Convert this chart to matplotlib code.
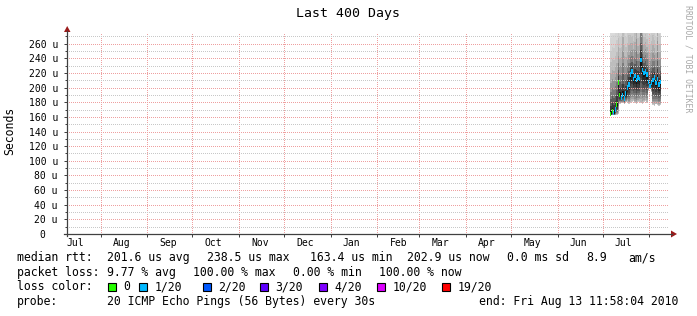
import datetime as dt
import numpy as np
import matplotlib
matplotlib.use('Agg')
import matplotlib.pyplot as plt
import matplotlib.dates as mdates
from matplotlib.patches import Rectangle, Polygon
from matplotlib.lines import Line2D

W, H = 697, 316
FONT = 'DejaVu Sans Mono'
plt.rcParams['font.family'] = FONT

# graph time range (last 400 days)
t_start = dt.datetime(2009, 7, 9, 11, 58, 4)
t_end = dt.datetime(2010, 8, 13, 11, 58, 4)
first_day = dt.datetime(2010, 7, 6)

# per-day median rtt (microseconds)
median_us = [164, 168, 165, 170, 177, 207, 190, 186, 190, 185, 192, 200, 204,
             218, 222, 212, 216, 210, 214, 212, 238, 224, 220, 222, 218,
             208, 202, 206, 210, 214, 206, 212, 204, 208]
# loss colour index per day (0 = no loss, 1 = 1/20)
loss_idx = [0, 0, 1, 1, 0, 0, 0, 1, 1, 1, 1, 1, 1,
            1, 1, 1, 1, 1, 1, 1, 1, 1, 1, 1, 1,
            1, 1, 1, 1, 1, 1, 1, 1, 1]
# smoke envelope: lowest and highest ping per day
smoke_lo_us = [162, 162, 162, 162, 163, 164, 178, 180, 179, 178, 180, 181, 178,
               179, 180, 182, 179, 178, 180, 181, 179, 178, 180, 182, 179,
               196, 198, 194, 176, 175, 177, 176, 175, 176]
smoke_hi_us = [285, 290, 290, 295, 300, 310, 300, 305, 360, 310, 300, 305, 320,
               310, 305, 300, 315, 370, 305, 310, 380, 360, 305, 310, 300,
               295, 300, 305, 315, 300, 295, 360, 300, 295]

loss_labels = ['0', '1/20', '2/20', '3/20', '4/20', '10/20', '19/20']
loss_colors = ['#26ff00', '#00b8ff', '#0059ff', '#5e00ff', '#7e00ff', '#dd00ff', '#ff0000']
loss_box_x = [108, 139, 203, 260, 319, 377, 442]

month_labels = ['Jul', 'Aug', 'Sep', 'Oct', 'Nov', 'Dec', 'Jan',
                'Feb', 'Mar', 'Apr', 'May', 'Jun', 'Jul']
y_ticks = list(range(0, 261, 20))
y_ticklabels = ['0  '] + ['%d u' % v for v in y_ticks[1:]]


def fx(x):
    return x / W


def fy(y):
    return 1 - y / H


fig = plt.figure(figsize=(W / 100, H / 100), dpi=100)
fig.patch.set_facecolor('white')
ax = fig.add_axes([fx(67), fy(234), 601 / W, 201 / H])
ax.set_facecolor('white')

# smoke: grey bands, darkest next to the median
n = len(median_us)
edges = mdates.date2num([first_day + dt.timedelta(days=i) for i in range(n + 1)])
med = np.array(median_us + [median_us[-1]], dtype=float)
lo = np.array(smoke_lo_us + [smoke_lo_us[-1]], dtype=float)
hi = np.array(smoke_hi_us + [smoke_hi_us[-1]], dtype=float)
N = 10
for k in range(N):
    g = int(221 - 200 * (k + 1) / N)
    col = '#%02x%02x%02x' % (g, g, g)
    a, b = (k / N) ** 1.5, ((k + 1) / N) ** 1.5
    ax.fill_between(edges, lo + (med - lo) * a, lo + (med - lo) * b,
                    step='post', color=col, lw=0, zorder=1)
    g = int(221 - 200 * ((k + 1) / N) ** 2)
    col = '#%02x%02x%02x' % (g, g, g)
    a, b = (1 - (k + 1) / N) ** 1.5, (1 - k / N) ** 1.5
    ax.fill_between(edges, med + (hi - med) * a, med + (hi - med) * b,
                    step='post', color=col, lw=0, zorder=1)

# median marks coloured by loss
days = mdates.date2num([first_day + dt.timedelta(days=i, hours=12) for i in range(n)])
ax.bar(days, [6] * n, bottom=np.array(median_us) - 3, width=0.75,
       color=[loss_colors[i] for i in loss_idx], lw=0, zorder=3)

ax.set_xlim(mdates.date2num(t_start), mdates.date2num(t_end))
ax.set_ylim(0, 274.6)

# grid
month_starts = [dt.datetime(2009 + (m + 7) // 12, (m + 7) % 12 + 1, 1) for m in range(13)]
label_pos = [dt.datetime(2009 + (m + 6) // 12, (m + 6) % 12 + 1, 15) for m in range(13)]
ax.set_xticks(mdates.date2num(month_starts))
ax.set_xticklabels([])
ax.set_xticks(mdates.date2num(label_pos), minor=True)
ax.set_xticklabels(month_labels, minor=True, fontsize=7)
ax.set_yticks(y_ticks)
ax.set_yticklabels(y_ticklabels, fontsize=7)
ax.set_yticks(list(range(10, 275, 10)), minor=True)
ax.tick_params(axis='x', which='major', length=2.2, width=0.72, color='#404040', direction='out')
ax.tick_params(axis='x', which='minor', length=0, pad=3)
ax.tick_params(axis='y', which='major', length=2.2, width=0.72, color='#404040', pad=4.3)
ax.tick_params(axis='y', which='minor', length=1.4, width=0.72, color='#404040')
ax.set_axisbelow(False)
dots = (0.5, (1, 1))
ax.grid(True, which='major', color='#eea0a0', lw=0.72, ls=dots)
ax.grid(True, which='minor', axis='y', color='#c8c8c8', lw=0.72, ls=dots)
ax.grid(False, which='minor', axis='x')
for t in (ax.xaxis.get_major_ticks() + ax.yaxis.get_major_ticks()
          + ax.yaxis.get_minor_ticks()):
    t.gridline.set_snap(True)
for s in ax.spines.values():
    s.set_visible(False)

# axes with arrows
fig.add_artist(Line2D([fx(67), fx(67)], [fy(236), fy(31)], color='#404040', lw=0.9))
fig.add_artist(Line2D([fx(64), fx(672)], [fy(234), fy(234)], color='#404040', lw=0.9))
fig.add_artist(Polygon([(fx(64), fy(32)), (fx(70.5), fy(32)), (fx(67.2), fy(26))],
                       closed=True, color='#9b1b1b', lw=0))
fig.add_artist(Polygon([(fx(671), fy(230.5)), (fx(671), fy(237.5)), (fx(677), fy(234))],
                       closed=True, color='#9b1b1b', lw=0))

# titles
fig.text(fx(348), fy(14), 'Last 400 Days', ha='center', va='center', fontsize=9.5)
fig.text(fx(10), fy(131), 'Seconds', rotation=90, ha='center', va='center', fontsize=8.3)
fig.text(fx(688), fy(5), 'RRDTOOL / TOBI OETIKER', rotation=270, ha='center', va='top',
         fontsize=5.9, color='#a8a8a8')

# legend
LS = 8.3
r1, r2, r3, r4 = 257.7, 272.3, 286.7, 301
for x, t in [(17, 'median rtt:'), (107, '201.6 us avg'), (207, '238.5 us max'),
             (310, '163.4 us min'), (407, '202.9 us now'), (507, '0.0 ms sd'),
             (586, '8.9'), (628, 'am/s')]:
    fig.text(fx(x), fy(r1), t, ha='left', va='center', fontsize=LS)
for x, t in [(17, 'packet loss:'), (107, '9.77 % avg'), (193, '100.00 % max'),
             (293, '0.00 % min'), (379, '100.00 % now')]:
    fig.text(fx(x), fy(r2), t, ha='left', va='center', fontsize=LS)
fig.text(fx(17), fy(r3), 'loss color:', ha='left', va='center', fontsize=LS)
for bx, lab, c in zip(loss_box_x, loss_labels, loss_colors):
    fig.add_artist(Rectangle((fx(bx), fy(290.5)), 8 / W, 8 / H, transform=fig.transFigure,
                             facecolor=c, edgecolor='black', lw=0.8))
    fig.text(fx(bx + 15.5), fy(r3), lab, ha='left', va='center', fontsize=LS)
fig.text(fx(17), fy(r4), 'probe:', ha='left', va='center', fontsize=LS)
fig.text(fx(107), fy(r4), '20 ICMP Echo Pings (56 Bytes) every 30s', ha='left', va='center', fontsize=LS)
fig.text(fx(479), fy(r4), 'end: Fri Aug 13 11:58:04 2010', ha='left', va='center', fontsize=LS)

fig.savefig('out.png', dpi=100, facecolor='white')
